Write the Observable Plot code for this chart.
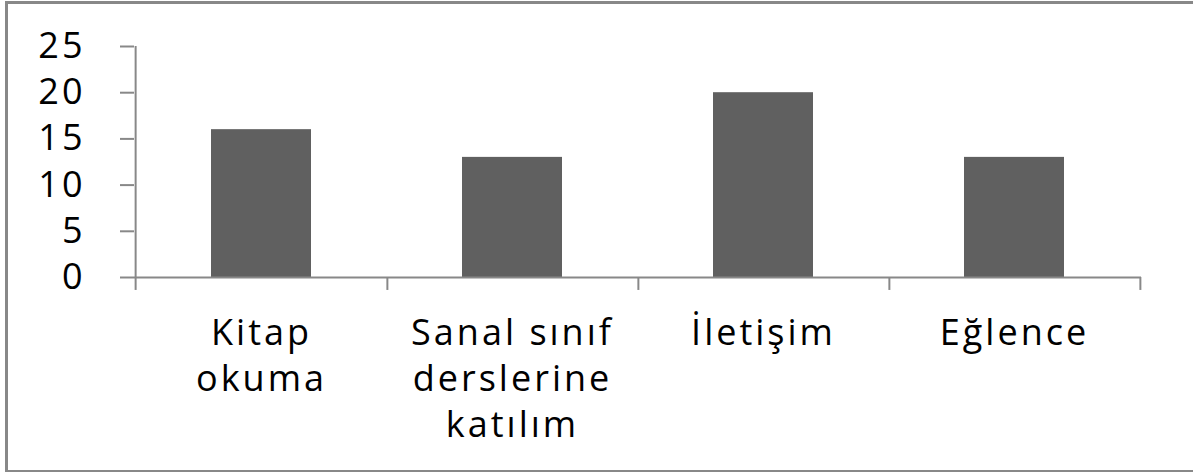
<!DOCTYPE html>
<html>
<head>
<meta charset="utf-8">
<script src="https://cdn.jsdelivr.net/npm/d3@7"></script>
<script src="https://cdn.jsdelivr.net/npm/@observablehq/plot@0.6"></script>
<style>
  html, body { margin: 0; padding: 0; background: #fff; }
  #wrap { position: relative; width: 1193px; height: 474px; overflow: hidden; }
  #frame { position: absolute; left: 5px; top: 1px; width: 1188px; height: 471px;
           border-left: 3px solid #888; border-top: 3px solid #888; border-bottom: 2px solid #888;
           box-sizing: border-box; pointer-events: none; }
  svg { position: absolute; left: 0; top: 0; }
</style>
</head>
<body>
<div id="wrap"><div id="frame"></div></div>
<script>
const categories = ["Kitap okuma", "Sanal sınıf derslerine katılım", "İletişim", "Eğlence"];
const values = [16, 13, 20, 13];
const tickLabels = ["Kitap\nokuma", "Sanal sınıf\nderslerine\nkatılım", "İletişim", "Eğlence"];
const yTicks = [0, 5, 10, 15, 20, 25];

const data = categories.map((c, i) => ({category: c, value: values[i], label: tickLabels[i]}));

const W = 1193, H = 474, ML = 134, MR = 52, MT = 46, MB = 197;
const half = (W - ML - MR) / categories.length / 2;
const axisColor = "#888";
const font = "'Open Sans', sans-serif";

const chart = Plot.plot({
  width: W,
  height: H,
  marginLeft: ML,
  marginRight: MR,
  marginTop: MT,
  marginBottom: MB,
  style: {fontFamily: font, background: "transparent", overflow: "visible"},
  x: {domain: categories, paddingInner: 0.6, paddingOuter: 0.3, axis: null},
  y: {domain: [0, 25], axis: null},
  marks: [
    Plot.barY(data, {x: "category", y: "value", fill: "#606060"}),
    // x axis line
    Plot.ruleY([0], {stroke: axisColor, strokeWidth: 2}),
    // y axis line
    Plot.ruleX([categories[0]], {dx: -half, y1: -1.4, y2: 25, stroke: axisColor, strokeWidth: 2}),
    // x boundary ticks
    Plot.ruleX(categories, {dx: half, y1: -1.4, y2: 0, stroke: axisColor, strokeWidth: 2}),
    // y axis ticks and labels
    Plot.axisY(yTicks, {anchor: "left", tickSize: 14, tickPadding: 35, stroke: axisColor, strokeWidth: 2,
      fill: "#000", fontSize: 36, label: null, tickFormat: d => String(d)}),
    // x labels
    Plot.text(data, {x: "category", y: 0, text: "label", dy: 35, lineAnchor: "top", lineHeight: 1.28,
      fontSize: 36, fill: "#000"})
  ]
});
chart.setAttribute("letter-spacing", "3px");
document.getElementById("wrap").prepend(chart);
</script>
</body>
</html>
